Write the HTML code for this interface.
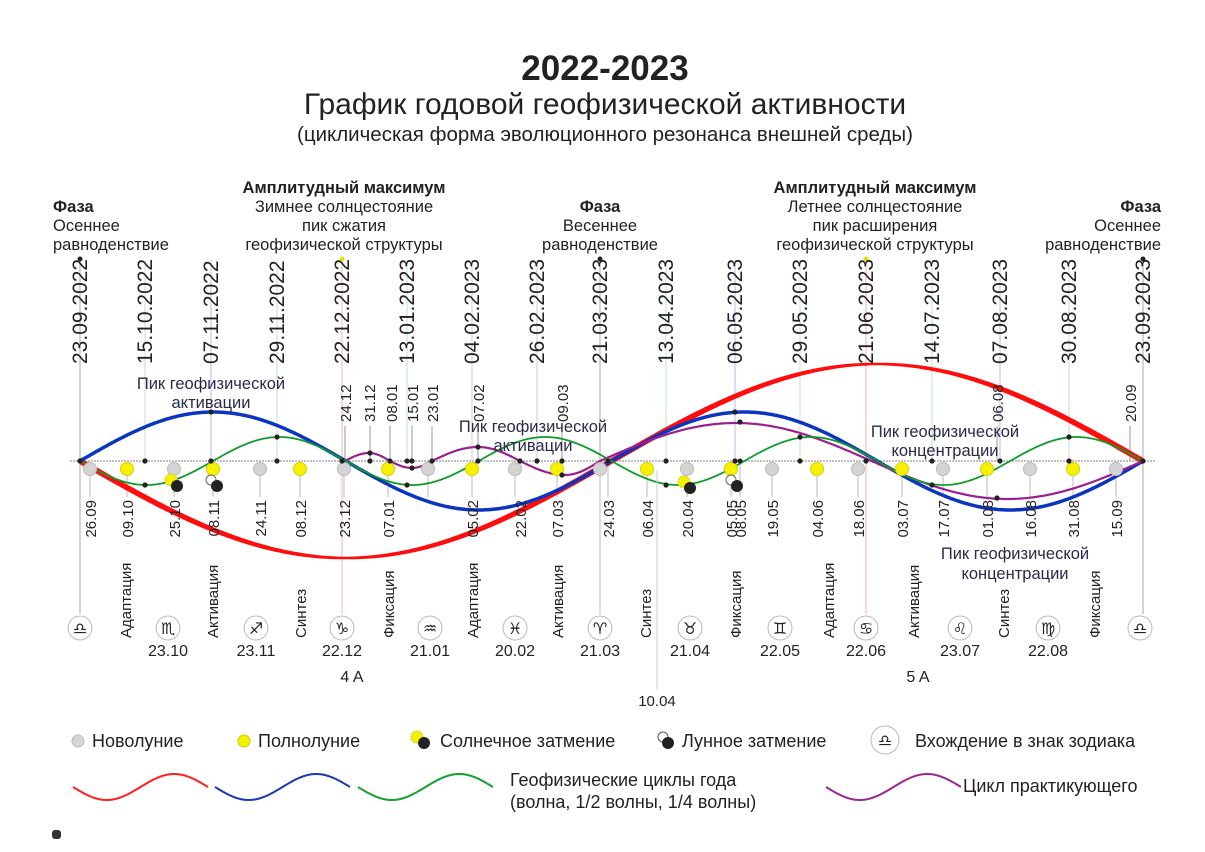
<!DOCTYPE html>
<html><head><meta charset="utf-8"><style>
html,body{margin:0;padding:0;background:#fff;}
svg{display:block;font-family:"Liberation Sans","DejaVu Sans",sans-serif;}
.t{font-size:21px;fill:#222}
.s{font-size:15px;fill:#222}
.p{font-size:15px;fill:#222}
.z{font-size:16px;fill:#222}
.a{font-size:16.5px;fill:#2a2a4a}
.h{font-size:16.5px;fill:#222}
.hb{font-size:16.5px;font-weight:bold;fill:#222}
.lg{font-size:18px;fill:#222}
</style></head><body>
<svg id="sv" width="1205" height="852" viewBox="0 0 1205 852" xmlns="http://www.w3.org/2000/svg">
<rect width="1205" height="852" fill="#fff"/>
<text x="605" y="80" text-anchor="middle" font-size="35" font-weight="bold" fill="#222">2022-2023</text>
<text x="605" y="114" text-anchor="middle" font-size="30" fill="#222">График годовой геофизической активности</text>
<text x="605" y="141" text-anchor="middle" font-size="20.5" fill="#222">(циклическая форма эволюционного резонанса внешней среды)</text>

<text x="53" y="212" class="hb">Фаза</text>
<text x="53" y="231" class="h">Осеннее</text>
<text x="53" y="250" class="h">равноденствие</text>
<text x="344" y="193" class="hb" text-anchor="middle">Амплитудный максимум</text>
<text x="344" y="212" class="h" text-anchor="middle">Зимнее солнцестояние</text>
<text x="344" y="231" class="h" text-anchor="middle">пик сжатия</text>
<text x="344" y="250" class="h" text-anchor="middle">геофизической структуры</text>
<text x="600" y="212" class="hb" text-anchor="middle">Фаза</text>
<text x="600" y="231" class="h" text-anchor="middle">Весеннее</text>
<text x="600" y="250" class="h" text-anchor="middle">равноденствие</text>
<text x="875" y="193" class="hb" text-anchor="middle">Амплитудный максимум</text>
<text x="875" y="212" class="h" text-anchor="middle">Летнее солнцестояние</text>
<text x="875" y="231" class="h" text-anchor="middle">пик расширения</text>
<text x="875" y="250" class="h" text-anchor="middle">геофизической структуры</text>
<text x="1161" y="212" class="hb" text-anchor="end">Фаза</text>
<text x="1161" y="231" class="h" text-anchor="end">Осеннее</text>
<text x="1161" y="250" class="h" text-anchor="end">равноденствие</text>

<g id="lines"></g>
<line x1="70" y1="461" x2="1155" y2="461" stroke="#999" stroke-width="1.2" stroke-dasharray="2,1"/>
<g id="curves"></g>
<g id="marks"></g>

<g class="t">
<text transform="translate(87,364) rotate(-90)">23.09.2022</text>
<text transform="translate(152,364) rotate(-90)">15.10.2022</text>
<text transform="translate(218,364) rotate(-90)">07.11.2022</text>
<text transform="translate(284,364) rotate(-90)">29.11.2022</text>
<text transform="translate(349,364) rotate(-90)">22.12.2022</text>
<text transform="translate(414,364) rotate(-90)">13.01.2023</text>
<text transform="translate(479,364) rotate(-90)">04.02.2023</text>
<text transform="translate(544,364) rotate(-90)">26.02.2023</text>
<text transform="translate(607,364) rotate(-90)">21.03.2023</text>
<text transform="translate(673,364) rotate(-90)">13.04.2023</text>
<text transform="translate(742,364) rotate(-90)">06.05.2023</text>
<text transform="translate(807,364) rotate(-90)">29.05.2023</text>
<text transform="translate(873,364) rotate(-90)">21.06.2023</text>
<text transform="translate(939,364) rotate(-90)">14.07.2023</text>
<text transform="translate(1007,364) rotate(-90)">07.08.2023</text>
<text transform="translate(1076,364) rotate(-90)">30.08.2023</text>
<text transform="translate(1150,364) rotate(-90)">23.09.2023</text>
</g>
<g class="s">
<text transform="translate(351,422) rotate(-90)">24.12</text>
<text transform="translate(375,422) rotate(-90)">31.12</text>
<text transform="translate(397,422) rotate(-90)">08.01</text>
<text transform="translate(418,422) rotate(-90)">15.01</text>
<text transform="translate(438,422) rotate(-90)">23.01</text>
<text transform="translate(484,422) rotate(-90)">07.02</text>
<text transform="translate(568,422) rotate(-90)">09.03</text>
<text transform="translate(1003,422) rotate(-90)">06.08</text>
<text transform="translate(1136,422) rotate(-90)">20.09</text>
</g>
<g class="s">
<text transform="translate(96,500) rotate(-90)" text-anchor="end">26.09</text>
<text transform="translate(133,500) rotate(-90)" text-anchor="end">09.10</text>
<text transform="translate(180,500) rotate(-90)" text-anchor="end">25.10</text>
<text transform="translate(219,500) rotate(-90)" text-anchor="end">08.11</text>
<text transform="translate(266,500) rotate(-90)" text-anchor="end">24.11</text>
<text transform="translate(306,500) rotate(-90)" text-anchor="end">08.12</text>
<text transform="translate(350,500) rotate(-90)" text-anchor="end">23.12</text>
<text transform="translate(394,500) rotate(-90)" text-anchor="end">07.01</text>
<text transform="translate(478,500) rotate(-90)" text-anchor="end">05.02</text>
<text transform="translate(526,500) rotate(-90)" text-anchor="end">22.02</text>
<text transform="translate(563,500) rotate(-90)" text-anchor="end">07.03</text>
<text transform="translate(614,500) rotate(-90)" text-anchor="end">24.03</text>
<text transform="translate(653,500) rotate(-90)" text-anchor="end">06.04</text>
<text transform="translate(693,500) rotate(-90)" text-anchor="end">20.04</text>
<text transform="translate(737,500) rotate(-90)" text-anchor="end">05.05</text>
<text transform="translate(746,500) rotate(-90)" text-anchor="end">08.05</text>
<text transform="translate(778,500) rotate(-90)" text-anchor="end">19.05</text>
<text transform="translate(823,500) rotate(-90)" text-anchor="end">04.06</text>
<text transform="translate(864,500) rotate(-90)" text-anchor="end">18.06</text>
<text transform="translate(908,500) rotate(-90)" text-anchor="end">03.07</text>
<text transform="translate(949,500) rotate(-90)" text-anchor="end">17.07</text>
<text transform="translate(993,500) rotate(-90)" text-anchor="end">01.08</text>
<text transform="translate(1036,500) rotate(-90)" text-anchor="end">16.08</text>
<text transform="translate(1079,500) rotate(-90)" text-anchor="end">31.08</text>
<text transform="translate(1122,500) rotate(-90)" text-anchor="end">15.09</text>
</g>
<g class="p">
<text transform="translate(131,638) rotate(-90)">Адаптация</text>
<text transform="translate(218,638) rotate(-90)">Активация</text>
<text transform="translate(306,638) rotate(-90)">Синтез</text>
<text transform="translate(394,638) rotate(-90)">Фиксация</text>
<text transform="translate(478,638) rotate(-90)">Адаптация</text>
<text transform="translate(563,638) rotate(-90)">Активация</text>
<text transform="translate(651,638) rotate(-90)">Синтез</text>
<text transform="translate(741,638) rotate(-90)">Фиксация</text>
<text transform="translate(834,638) rotate(-90)">Адаптация</text>
<text transform="translate(919,638) rotate(-90)">Активация</text>
<text transform="translate(1009,638) rotate(-90)">Синтез</text>
<text transform="translate(1100,638) rotate(-90)">Фиксация</text>
</g>
<g id="zod"></g>
<g class="z" text-anchor="middle">
<text x="168" y="656">23.10</text><text x="256" y="656">23.11</text><text x="342" y="656">22.12</text>
<text x="430" y="656">21.01</text><text x="515" y="656">20.02</text><text x="600" y="656">21.03</text>
<text x="690" y="656">21.04</text><text x="780" y="656">22.05</text><text x="866" y="656">22.06</text>
<text x="960" y="656">23.07</text><text x="1048" y="656">22.08</text>
</g>
<text x="352" y="682" class="z" text-anchor="middle">4 A</text>
<text x="918" y="682" class="z" text-anchor="middle">5 A</text>
<line x1="657" y1="470" x2="657" y2="690" stroke="#ccc" stroke-width="1"/>
<text x="657" y="706" font-size="15" fill="#222" text-anchor="middle">10.04</text>

<g class="a" text-anchor="middle">
<text x="211" y="389">Пик геофизической</text><text x="211" y="408">активации</text>
<text x="533" y="432">Пик геофизической</text><text x="533" y="451">активации</text>
<text x="945" y="437">Пик геофизической</text><text x="945" y="456">концентрации</text>
<text x="1015" y="559">Пик геофизической</text><text x="1015" y="579">концентрации</text>
</g>

<circle cx="78" cy="741" r="6" fill="#d6d6d6" stroke="#bbb"/>
<text x="92" y="747" class="lg">Новолуние</text>
<circle cx="244" cy="741" r="6" fill="#f5f000" stroke="#cc0"/>
<text x="258" y="747" class="lg">Полнолуние</text>
<circle cx="417" cy="737" r="6" fill="#f5f000" stroke="#cc0" stroke-dasharray="2,1"/>
<circle cx="424" cy="743" r="6" fill="#222"/>
<text x="440" y="747" class="lg">Солнечное затмение</text>
<circle cx="663" cy="737" r="5" fill="#fff" stroke="#555"/>
<circle cx="668" cy="743" r="6" fill="#222"/>
<text x="682" y="747" class="lg">Лунное затмение</text>
<circle cx="885" cy="740" r="14" fill="#fff" stroke="#bbb"/>
<text x="885" y="746" font-size="16" text-anchor="middle" fill="#222" font-family="DejaVu Sans">♎</text>
<text x="915" y="747" class="lg">Вхождение в знак зодиака</text>
<g id="leg"></g>
<text x="510" y="786" class="lg">Геофизические циклы года</text>
<text x="510" y="808" class="lg">(волна, 1/2 волны, 1/4 волны)</text>
<text x="963" y="792" class="lg">Цикл практикующего</text>
<rect x="52" y="830" width="9" height="9" rx="3" fill="#333"/>
</svg>
<script>
(function(){
var NS="http://www.w3.org/2000/svg";
function el(p,n,a){var e=document.createElementNS(NS,n);for(var k in a)e.setAttribute(k,a[k]);p.appendChild(e);return e;}
var L=document.getElementById('lines'),C=document.getElementById('curves'),M=document.getElementById('marks'),Z=document.getElementById('zod'),G=document.getElementById('leg');
var top=[[80,'#aaa'],[145,'#bfe3c8'],[211,'#b8b8f0'],[277,'#bfe3c8'],[342,'#f2b0b0'],[407,'#bfe3c8'],[472,'#ccc'],[537,'#ccc'],[600,'#aaa'],[666,'#bfe3c8'],[735,'#b8b8f0'],[800,'#bfe3c8'],[866,'#f2b0b0'],[932,'#bfe3c8'],[1000,'#b8b8f0'],[1069,'#bfe3c8'],[1143,'#aaa']];
top.forEach(function(t,i){var long=(i%4==0);el(L,'line',{x1:t[0],y1:260,x2:t[0],y2:long?614:461,stroke:t[1],'stroke-width':1});});
[[80,'#222'],[342,'#e8e000'],[600,'#222'],[866,'#e8e000'],[1143,'#222']].forEach(function(d){el(M,'circle',{cx:d[0],cy:259,r:2.5,fill:d[1]});});
[345,370,390,412,432,478,562,997,1130].forEach(function(x){el(L,'line',{x1:x,y1:426,x2:x,y2:461,stroke:'#999','stroke-width':1});});
var N=600,W=1063;
function pts(f,a,b){var s='';for(var i=0;i<=N;i++){var x=a+(b-a)*i/N;s+=(i?'L':'M')+x.toFixed(1)+','+f(x).toFixed(1);}return s;}
var red=function(x){return 461+97*Math.sin(2*Math.PI*(x-80)/W);};
var up=[],dn=[];for(var i=0;i<=N;i++){var x=80+W*i/N,y=red(x),w=(2.5+4*Math.abs(Math.cos(2*Math.PI*(x-80)/W)))/2;up.push(x.toFixed(1)+','+(y-w).toFixed(1));dn.unshift(x.toFixed(1)+','+(y+w).toFixed(1));}
el(C,'polygon',{points:up.concat(dn).join(' '),fill:'#ff0d0d'});
el(C,'path',{d:pts(function(x){return 461-49*Math.sin(2*Math.PI*(x-80)/(W/2));},80,1143),fill:'none',stroke:'#0a35c0','stroke-width':3.5});
var kn=[[345,461],[369,453],[390,461],[412,468],[432,461],[478,447],[520,461],[565,475],[600,461]];
function purp(x){if(x>=600)return 461-38*Math.sin(2*Math.PI*(x-600)/543);for(var k=0;k<kn.length-1;k++){if(x<=kn[k+1][0]){var t=(x-kn[k][0])/(kn[k+1][0]-kn[k][0]);var a=kn[k][1],b=kn[k+1][1];
 if(a==461||b==461){var ext=(a==461)?b:a;var s=(a==461)?Math.sin(t*Math.PI/2):Math.cos(t*Math.PI/2);return 461+(ext-461)*s;}return a+(b-a)*(1-Math.cos(Math.PI*t))/2;}}return 461;}
el(C,'path',{d:pts(purp,345,1143),fill:'none',stroke:'#9a1f8f','stroke-width':2.2});
el(C,'path',{d:pts(function(x){return 461+24*Math.sin(2*Math.PI*(x-80)/(W/4));},80,1143),fill:'none',stroke:'#109a2a','stroke-width':1.8});
var moons=[[90,0],[127,1],[174,0],[213,1],[260,0],[300,1],[344,0],[388,1],[428,0],[472,1],[515,0],[557,1],[600,0],[647,1],[687,0],[731,1],[772,0],[817,1],[858,0],[902,1],[943,0],[987,1],[1030,0],[1073,1],[1116,0]];
moons.forEach(function(m){el(L,'line',{x1:m[0],y1:469,x2:m[0],y2:m[0]==600?614:497,stroke:'#bbb','stroke-width':1});
 el(M,'circle',{cx:m[0],cy:469,r:6.5,fill:m[1]?'#f7f000':'#d4d4d4',stroke:m[1]?'#d8d000':'#bbb','stroke-width':1});});
[608,740].forEach(function(x){el(L,'line',{x1:x,y1:461,x2:x,y2:497,stroke:'#bbb'});el(M,'circle',{cx:x,cy:461,r:2.5,fill:'#222'});});
[[174,483],[687,485]].forEach(function(e){el(M,'circle',{cx:e[0]-3,cy:e[1]-3,r:6,fill:'#f7f000',stroke:'#cc0','stroke-dasharray':'2,1'});el(M,'circle',{cx:e[0]+3,cy:e[1]+3,r:6,fill:'#222'});});
[[215,482],[735,482]].forEach(function(e){el(M,'circle',{cx:e[0]-4,cy:e[1]-2,r:5,fill:'#fff',stroke:'#666'});el(M,'circle',{cx:e[0]+2,cy:e[1]+4,r:6,fill:'#222'});});
var dots=[[211,412],[145,485],[277,437],[145,461],[211,461],[277,461],[342,461],[370,453],[370,461],[390,461],[407,485],[407,461],[412,468],[412,461],[432,461],[478,447],[478,461],[520,461],[537,461],[562,475],[562,461],[666,485],[666,461],[735,412],[740,422],[735,461],[800,437],[800,461],[866,461],[932,485],[932,461],[997,498],[1000,461],[1069,437],[1069,461],[1143,461],[80,461]];
dots.forEach(function(d){el(M,'circle',{cx:d[0],cy:d[1],r:2.6,fill:'#222'});});
var zs=[[80,'♎'],[168,'♏'],[256,'♐'],[342,'♑'],[430,'♒'],[515,'♓'],[600,'♈'],[690,'♉'],[780,'♊'],[866,'♋'],[960,'♌'],[1048,'♍'],[1140,'♎']];
zs.forEach(function(z){el(Z,'circle',{cx:z[0],cy:628,r:12,fill:'#fff',stroke:'#bbb','stroke-width':1});var t=el(Z,'text',{x:z[0],y:634,'text-anchor':'middle','font-size':16,fill:'#222','font-family':'DejaVu Sans'});t.textContent=z[1];});
function wave(a,col){el(G,'path',{d:pts(function(x){return 787+13*Math.sin(2*Math.PI*(x-a)/135);},a,a+135),fill:'none',stroke:col,'stroke-width':2});}
wave(73,'#ff2020');wave(215,'#1a3cb0');wave(358,'#18a030');wave(826,'#9a2a90');
})();
</script>
</body></html>
